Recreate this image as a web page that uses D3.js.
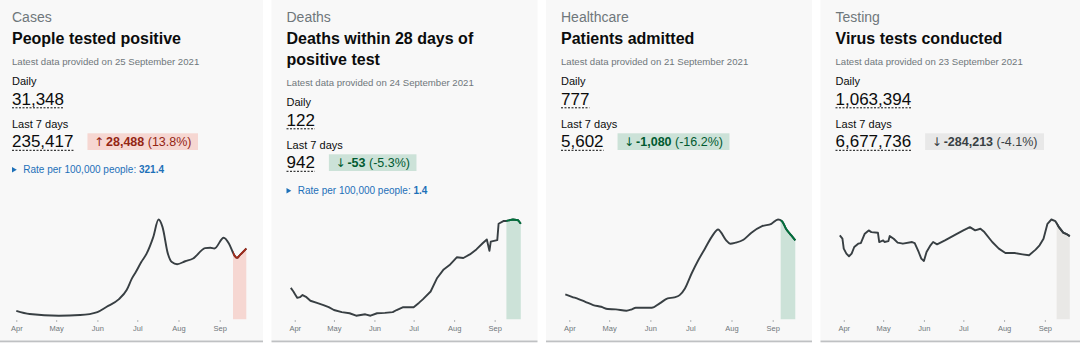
<!DOCTYPE html>
<html><head><meta charset="utf-8">
<script src="https://cdn.jsdelivr.net/npm/d3@7"></script>
<style>
html,body{margin:0;padding:0;background:#fff;}
svg{display:block;font-family:"Liberation Sans",Arial,sans-serif;}
</style></head><body>
<svg id="c" width="1080" height="347"></svg>
<script>
// ---------- Data ----------
const categories = ["Cases", "Deaths", "Healthcare", "Testing"];
const titles = [["People tested positive"], ["Deaths within 28 days of", "positive test"], ["Patients admitted"], ["Virus tests conducted"]];
const latestDates = ["25 September 2021", "24 September 2021", "21 September 2021", "23 September 2021"];
const dailyValues = ["31,348", "122", "777", "1,063,394"];
const weeklyValues = ["235,417", "942", "5,602", "6,677,736"];
const changeValues = ["28,488", "-53", "-1,080", "-284,213"];
const changePercents = ["(13.8%)", "(-5.3%)", "(-16.2%)", "(-4.1%)"];
const changeDirections = ["up", "down", "down", "down"];
const rateValues = ["321.4", "1.4", null, null];
const monthTicks = ["2021-04-01", "2021-05-01", "2021-06-01", "2021-07-01", "2021-08-01", "2021-09-01"];
const highlightStarts = ["2021-09-11", "2021-09-10", "2021-09-07", "2021-09-10"];

const casesDates = ["2021-04-01","2021-04-11","2021-05-03","2021-05-19","2021-06-01","2021-06-08","2021-06-17","2021-06-23","2021-06-27","2021-06-30","2021-07-04","2021-07-08","2021-07-13","2021-07-17","2021-07-20","2021-07-24","2021-07-27","2021-07-31","2021-08-06","2021-08-12","2021-08-21","2021-08-25","2021-08-28","2021-09-04","2021-09-08","2021-09-12","2021-09-14","2021-09-16","2021-09-21"];
const casesValues = [4000,2500,1700,2000,3400,5900,9400,13800,19300,22400,27000,31000,38800,47100,43500,31000,27000,26000,27400,28700,33600,33800,33400,38500,35700,30200,29000,30200,33400];

const deathsDates = ["2021-03-29","2021-03-31","2021-04-01","2021-04-03","2021-04-05","2021-04-07","2021-04-10","2021-04-13","2021-04-18","2021-04-23","2021-04-27","2021-05-01","2021-05-07","2021-05-13","2021-05-18","2021-05-25","2021-05-29","2021-06-03","2021-06-09","2021-06-15","2021-06-18","2021-06-23","2021-07-01","2021-07-05","2021-07-08","2021-07-14","2021-07-19","2021-07-24","2021-07-29","2021-08-03","2021-08-08","2021-08-13","2021-08-18","2021-08-23","2021-08-26","2021-08-28","2021-08-29","2021-09-03","2021-09-04","2021-09-08","2021-09-10","2021-09-15","2021-09-19","2021-09-21"];
const deathsValues = [44,39,36,30,31,34,31,26,23,20,17,13,10,8.5,5,7,5,8.5,9,10,13,17,17,23,28,39,58,70,77,87,86,91,98,107,112,96,109,111,134,138,138,140,139,134];

const admissionsDates = ["2021-03-29","2021-04-03","2021-04-08","2021-04-13","2021-04-19","2021-04-25","2021-04-30","2021-05-06","2021-05-14","2021-05-18","2021-05-21","2021-05-28","2021-06-02","2021-06-08","2021-06-14","2021-06-19","2021-06-23","2021-06-27","2021-07-02","2021-07-07","2021-07-12","2021-07-17","2021-07-22","2021-07-24","2021-07-28","2021-07-31","2021-08-04","2021-08-10","2021-08-16","2021-08-24","2021-08-31","2021-09-05","2021-09-08","2021-09-11","2021-09-15","2021-09-18"];
const admissionsValues = [250,226,203,176,143,126,103,100,86,100,116,116,116,160,210,220,243,310,460,593,710,826,903,876,793,760,770,800,870,936,960,1003,986,910,843,793];

const testsDates = ["2021-03-29","2021-03-31","2021-04-01","2021-04-03","2021-04-05","2021-04-07","2021-04-09","2021-04-12","2021-04-14","2021-04-17","2021-04-20","2021-04-22","2021-04-27","2021-04-28","2021-05-01","2021-05-02","2021-05-05","2021-05-06","2021-05-09","2021-05-12","2021-05-16","2021-05-23","2021-05-25","2021-05-28","2021-05-30","2021-06-01","2021-06-03","2021-06-06","2021-06-08","2021-06-11","2021-06-17","2021-06-25","2021-07-01","2021-07-06","2021-07-10","2021-07-14","2021-07-17","2021-07-23","2021-07-28","2021-08-02","2021-08-09","2021-08-15","2021-08-20","2021-08-25","2021-08-28","2021-08-31","2021-09-03","2021-09-06","2021-09-09","2021-09-12","2021-09-15","2021-09-18","2021-09-20"];
const testsValues = [961,923,809,752,722,752,828,866,873,980,1018,999,992,885,904,885,896,953,923,878,866,885,873,771,695,668,771,847,885,858,904,969,1018,1056,1018,1037,999,885,809,759,759,744,733,798,847,923,1094,1143,1124,1049,992,972,953];

const seriesDates = [casesDates, deathsDates, admissionsDates, testsDates];
const seriesValues = [casesValues, deathsValues, admissionsValues, testsValues];

// ---------- Styles ----------
const cardLefts = [-3, 271.5, 546, 820.5];
const cardW = 266;
const pad = 15;
const lineColor = "#383f43";
const hiLine = ["#a32a1a", "#00703c", "#00703c", "#383f43"];
const hiFill = ["#f6d7d2", "#cce2d8", "#cce2d8", "#e9e8e6"];
const badgeFill = ["#f6d7d2", "#cce2d8", "#cce2d8", "#e8e8e8"];
const badgeText = ["#942514", "#005a30", "#005a30", "#383f43"];

const parse = d3.timeParse("%Y-%m-%d");
const svg = d3.select("#c");

categories.forEach((cat, i) => {
  const g = svg.append("g").attr("transform", `translate(${cardLefts[i]},0)`);
  g.append("rect").attr("x", 0).attr("y", 0).attr("width", cardW).attr("height", 340.5).attr("fill", "#f8f8f8");
  g.append("rect").attr("x", 0).attr("y", 340.5).attr("width", cardW).attr("height", 1.8).attr("fill", "#bfc1c3");

  const off = (titles[i].length - 1) * 21;

  g.append("text").attr("x", pad).attr("y", 22).attr("fill", "#6f777b").style("font-size", "14px").text(cat);
  titles[i].forEach((t, j) => {
    g.append("text").attr("x", pad).attr("y", 44 + 21 * j).attr("fill", "#0b0c0c")
      .style("font-size", "16px").style("font-weight", "bold").text(t);
  });
  g.append("text").attr("x", pad).attr("y", 64.5 + off).attr("fill", "#6f777b").style("font-size", "9.6px")
    .text("Latest data provided on " + latestDates[i]);

  g.append("text").attr("x", pad).attr("y", 84.5 + off).attr("fill", "#0b0c0c").style("font-size", "11px").text("Daily");
  const dv = g.append("text").attr("x", pad).attr("y", 104.5 + off).attr("fill", "#0b0c0c").style("font-size", "17px").text(dailyValues[i]);
  const dvw = dv.node().getComputedTextLength();
  g.append("line").attr("x1", pad).attr("x2", pad + dvw).attr("y1", 107.8 + off).attr("y2", 107.8 + off)
    .attr("stroke", "#0b0c0c").attr("stroke-width", 1).attr("stroke-dasharray", "2,1.5");

  g.append("text").attr("x", pad).attr("y", 127.5 + off).attr("fill", "#0b0c0c").style("font-size", "11px").text("Last 7 days");
  const wv = g.append("text").attr("x", pad).attr("y", 146.5 + off).attr("fill", "#0b0c0c").style("font-size", "17px").text(weeklyValues[i]);
  const wvw = wv.node().getComputedTextLength();
  g.append("line").attr("x1", pad).attr("x2", pad + wvw).attr("y1", 150.3 + off).attr("y2", 150.3 + off)
    .attr("stroke", "#0b0c0c").attr("stroke-width", 1).attr("stroke-dasharray", "2,1.5");

  // badge
  const bx = pad + wvw + 14;
  const brect = g.append("rect").attr("x", bx).attr("y", 133.3 + off).attr("height", 16.7).attr("fill", badgeFill[i]);
  const bt = g.append("text").attr("x", bx + 6.5).attr("y", 145.6 + off).attr("fill", badgeText[i]).style("font-size", "12.5px");
  bt.append("tspan").style("font-family", '"DejaVu Sans", sans-serif').style("font-size", "12px")
    .text(changeDirections[i] === "up" ? "\u2191" : "\u2193");
  bt.append("tspan").attr("dx", 2).style("font-weight", "bold").text(changeValues[i]);
  bt.append("tspan").text(" " + changePercents[i]);
  brect.attr("width", bt.node().getComputedTextLength() + 15);

  if (rateValues[i]) {
    const ry = 173 + off;
    g.append("path").attr("d", `M${pad},${ry - 6}L${pad + 4.8},${ry - 3.3}L${pad},${ry - 0.6}Z`).attr("fill", "#1d70b8");
    const rt = g.append("text").attr("x", pad + 11.3).attr("y", ry).attr("fill", "#1d70b8").style("font-size", "10px");
    rt.append("tspan").text("Rate per 100,000 people:  ");
    rt.append("tspan").style("font-weight", "bold").text(rateValues[i]);
  }

  // chart
  const data = seriesDates[i].map((d, k) => ({ date: parse(d), v: seriesValues[i][k] }));
  const x = d3.scaleTime().domain(d3.extent(data, d => d.date)).range([19.3, 249.3]);
  const y = d3.scaleLinear().domain([0, d3.max(data, d => d.v)]).range([319.3, 219.5]);
  const curve = (i === 1 || i === 3) ? d3.curveLinear : d3.curveMonotoneX;
  const line = d3.line().x(d => x(d.date)).y(d => y(d.v)).curve(curve);
  const area = d3.area().x(d => x(d.date)).y0(y(0)).y1(d => y(d.v)).curve(curve);

  const hx = x(parse(highlightStarts[i]));
  const clipId = "clip" + i;
  g.append("clipPath").attr("id", clipId).append("rect")
    .attr("x", hx).attr("y", 150).attr("width", 260 - hx).attr("height", 180);

  g.append("path").datum(data).attr("d", area).attr("fill", hiFill[i]).attr("clip-path", `url(#${clipId})`);
  g.append("path").datum(data).attr("d", line).attr("fill", "none").attr("stroke", lineColor)
    .attr("stroke-width", 1.9).attr("stroke-linejoin", "round");
  g.append("path").datum(data).attr("d", line).attr("fill", "none").attr("stroke", hiLine[i])
    .attr("stroke-width", 1.9).attr("stroke-linejoin", "round").attr("clip-path", `url(#${clipId})`);

  const axis = d3.axisBottom(x).tickValues(monthTicks.map(parse)).tickFormat(d3.timeFormat("%b"))
    .tickSize(2).tickPadding(4);
  const ax = g.append("g").attr("transform", "translate(0,320)").call(axis);
  ax.select(".domain").remove();
  ax.selectAll(".tick line").attr("stroke", "#b1b4b6");
  ax.selectAll(".tick text").attr("fill", "#6f777b").style("font-size", "7.5px")
    .style("font-family", '"Liberation Sans", Arial, sans-serif');
});
</script>
</body></html>
